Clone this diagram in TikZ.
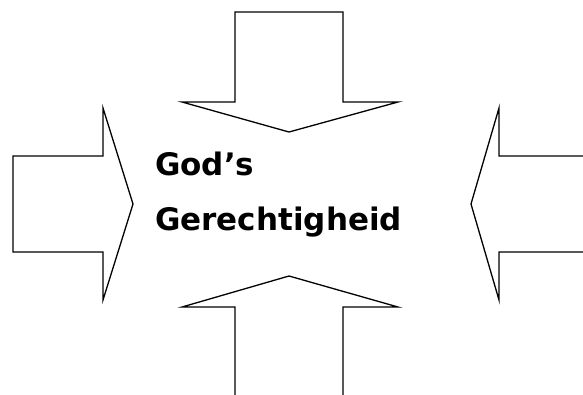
\documentclass[tikz,border=0pt]{standalone}
\usepackage{fontspec}
\setmainfont{DejaVu Sans}
\begin{document}
\begin{tikzpicture}[
		x=1pt, y=-1pt,
		pijl/.style = {draw=black, fill=white, line width=1.3pt, line join=miter},
		tekst/.style = {anchor=base west, inner sep=0pt, font=\bfseries\fontsize{31}{37}\selectfont}
		]
		
		% canvas
		\useasboundingbox (0, 0) rectangle (583, 394);
		\clip (0, 0) rectangle (583, 394);
		
		%Arrows
		\draw[pijl]	(235, 12) -- (343, 12) -- (343, 102) -- (398, 102) -- (289, 132)
					-- (182, 102) -- (235, 102) -- cycle;
		\draw[pijl]	(13, 156) -- (103, 156) -- (103, 108) -- (133, 204) -- (103, 300)
					-- (103, 252) -- (13, 252) -- cycle;
		\draw[pijl]	(590, 156) -- (499, 156) -- (499, 108) -- (471, 204) -- (499, 300)
					-- (499, 252) -- (590, 252) -- cycle;
		\draw[pijl]	(235, 400) -- (235, 307) -- (182, 307) -- (289, 276) -- (398, 307)
					-- (343, 307) -- (343, 400) -- cycle;
		
		%Text
		\node[tekst]	(gods)	at	(155, 175)	{God’s};
		\node[tekst]	(ger)	at	(155, 230)	{Gerechtigheid};
	\end{tikzpicture}
\end{document}
